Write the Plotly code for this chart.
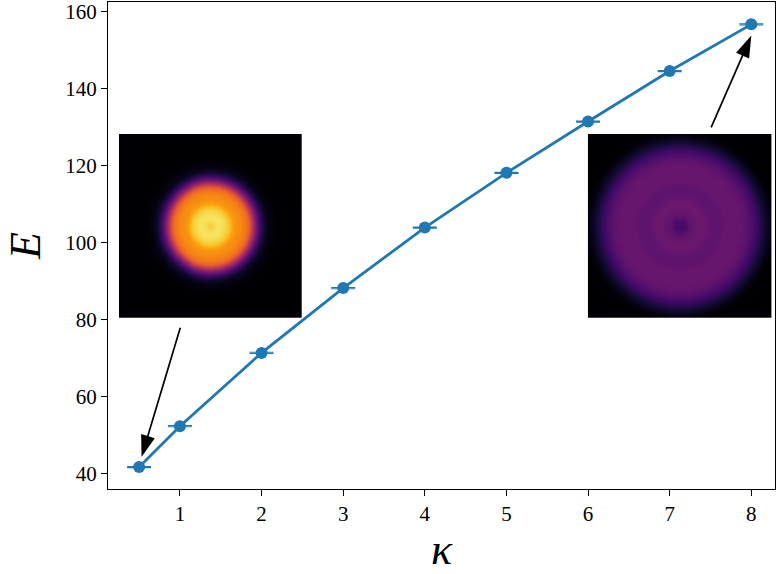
import numpy as np
import plotly.graph_objects as go

kappa = [0.5, 1, 2, 3, 4, 5, 6, 7, 8]
energy = [41.8, 52.4, 71.4, 88.2, 103.9, 118.1, 131.4, 144.5, 156.6]
energy_err = [0.15, 0.15, 0.15, 0.15, 0.15, 0.15, 0.15, 0.15, 0.15]
x_ticks = [1, 2, 3, 4, 5, 6, 7, 8]
y_ticks = [40, 60, 80, 100, 120, 140, 160]

# Arrows: tail and tip in data units, with the direction of each head in degrees
arrow_tail_x = [1.01, 7.5]
arrow_tail_y = [78.3, 129.5]
arrow_tip_x = [0.53, 8.0]
arrow_tip_y = [44.4, 153.7]
arrow_angle = [197, 23.5]

# Radial brightness, one value per ring
ring_step = 3
left_profile = [.87, .90, .92, .93, .92, .90, .87, .82, .77, .75, .74, .72, .69, .63, .50, .36,
                .25, .16, .08, .04, .02, .01, 0]
right_profile = [.21, .21, .23, .26, .28, .29, .30, .30, .30, .29, .28, .27, .27, .27, .28, .29,
                 .29, .29, .29, .29, .29, .28, .27, .25, .23, .20, .17, .13, .09, .06, .03, .01, 0]

inferno = [[0, "#000004"], [0.1, "#160b39"], [0.2, "#420a68"], [0.3, "#6a176e"], [0.4, "#932667"],
           [0.5, "#bc3754"], [0.6, "#dd513a"], [0.7, "#f37819"], [0.8, "#fca50a"], [0.9, "#f6d746"],
           [1, "#fcffa4"]]

W, H = 776, 574
L, R, T, B = 108, 776, 0, 489
BLUE = "#1f77b4"
SERIF = "Liberation Serif"


def disc(profile, n=184):
    c = (n - 1) / 2
    yy, xx = np.mgrid[0:n, 0:n]
    radius = np.hypot(xx - c, yy - c)
    return np.interp(radius, np.arange(len(profile)) * ring_step, profile, right=0)


fig = go.Figure()
fig.add_trace(go.Scatter(
    x=kappa, y=energy, mode="lines+markers",
    line=dict(color=BLUE, width=2.8),
    marker=dict(color=BLUE, size=12),
    error_y=dict(type="data", array=energy_err, color=BLUE, thickness=1.1, width=12),
    showlegend=False, hoverinfo="skip",
))
fig.add_trace(go.Scatter(
    x=arrow_tip_x, y=arrow_tip_y, mode="markers",
    marker=dict(symbol="arrow", size=23, color="black", angle=arrow_angle, line=dict(width=0)),
    showlegend=False, hoverinfo="skip",
))
for axis, profile in (("2", left_profile), ("3", right_profile)):
    fig.add_trace(go.Heatmap(
        z=disc(profile), xaxis="x" + axis, yaxis="y" + axis,
        colorscale=inferno, zmin=0, zmax=1, showscale=False, zsmooth="best", hoverinfo="skip",
    ))


def inset_axis(domain):
    return dict(domain=domain, visible=False, range=[-0.5, 183.5], fixedrange=True)


def dx(p):
    return [(p[0] - L) / (R - L), (p[1] - L) / (R - L)]


def dy(p):
    return [(B - p[1]) / (B - T), (B - p[0]) / (B - T)]


axis_common = dict(
    showgrid=False, zeroline=False, showline=True, mirror=True, linecolor="black", linewidth=1.3,
    ticks="outside", ticklen=6, tickwidth=1.2, tickcolor="black", ticklabeloverflow="allow",
    tickfont=dict(family=SERIF, size=21, color="black"),
)
fig.update_layout(
    width=W, height=H, margin=dict(l=L, r=W - R, t=T, b=H - B),
    paper_bgcolor="white", plot_bgcolor="white",
    xaxis=dict(axis_common, range=[0.119, 8.29], tickvals=x_ticks, domain=[0, 1],
               title=dict(text="\u00a0<i>κ</i>", font=dict(family=SERIF, size=44, color="black"), standoff=8)),
    yaxis=dict(axis_common, range=[36.1, 162.4], tickvals=y_ticks, domain=[0, 1],
               title=dict(text="<i>E</i>", font=dict(family=SERIF, size=44, color="black"), standoff=10)),
    xaxis2=inset_axis(dx((119, 302))), yaxis2=dict(inset_axis(dy((132.5, 317))), anchor="x2"),
    xaxis3=inset_axis(dx((588.5, 772.5))), yaxis3=dict(inset_axis(dy((132.5, 317))), anchor="x3"),
    annotations=[
        dict(x=tx, y=ty, ax=ax, ay=ay, xref="x", yref="y", axref="x", ayref="y", text="",
             showarrow=True, arrowhead=0, arrowwidth=1.7, arrowcolor="black", standoff=8)
        for tx, ty, ax, ay in zip(arrow_tip_x, arrow_tip_y, arrow_tail_x, arrow_tail_y)
    ],
)
fig.write_html("out.html", config={"displayModeBar": False},
               post_script="document.body.style.margin='0';")
